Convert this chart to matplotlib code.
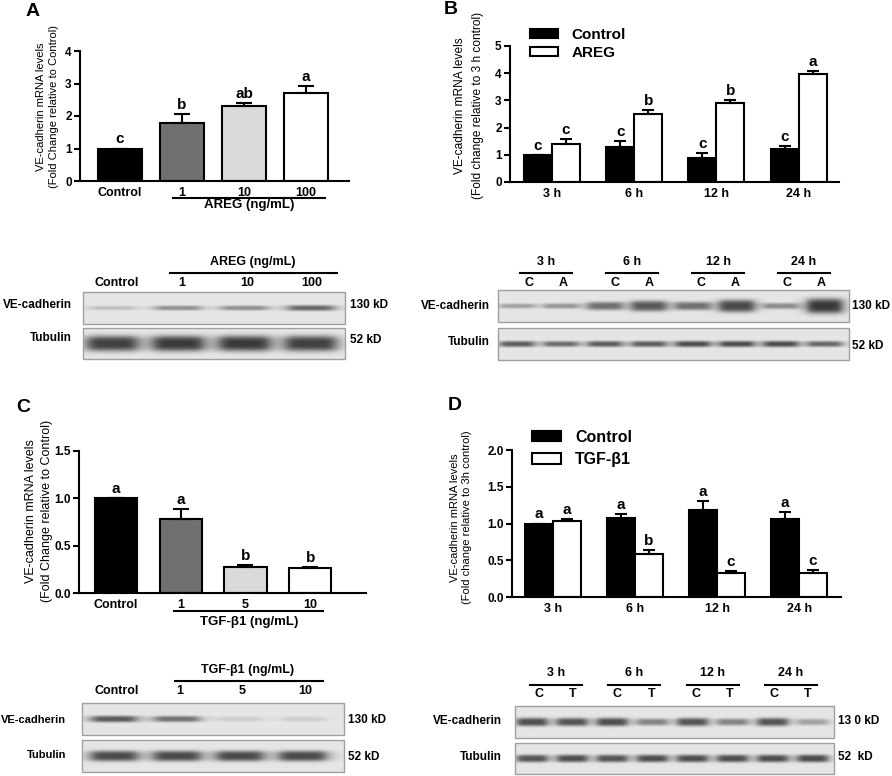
import matplotlib
matplotlib.use("Agg")
import matplotlib.pyplot as plt
import numpy as np
from matplotlib.patches import Rectangle
from matplotlib.ticker import FormatStrFormatter
from matplotlib.transforms import blended_transform_factory

W, H = 892, 776
plt.rcParams["font.family"] = ["Liberation Sans", "DejaVu Sans"]
plt.rcParams["font.weight"] = "bold"

# ---------------- data ----------------
# Panel A: AREG dose response
areg_doses = ["Control", "1", "10", "100"]
areg_mean = [1.0, 1.8, 2.32, 2.7]
areg_err = [0.0, 0.25, 0.08, 0.23]
areg_letters = ["c", "b", "ab", "a"]

# Panel B: AREG time course
time_labels = ["3 h", "6 h", "12 h", "24 h"]
b_ctrl_mean = [1.0, 1.3, 0.9, 1.2]
b_ctrl_err = [0.0, 0.22, 0.17, 0.12]
b_areg_mean = [1.4, 2.5, 2.92, 3.97]
b_areg_err = [0.17, 0.15, 0.08, 0.11]
b_ctrl_letters = ["c", "c", "c", "c"]
b_areg_letters = ["c", "b", "b", "a"]

# Panel C: TGF-b1 dose response
tgf_doses = ["Control", "1", "5", "10"]
tgf_mean = [1.0, 0.78, 0.27, 0.26]
tgf_err = [0.0, 0.11, 0.03, 0.01]
tgf_letters = ["a", "a", "b", "b"]

# Panel D: TGF-b1 time course
d_ctrl_mean = [1.0, 1.07, 1.18, 1.06]
d_ctrl_err = [0.0, 0.06, 0.13, 0.10]
d_tgf_mean = [1.04, 0.58, 0.32, 0.33]
d_tgf_err = [0.02, 0.06, 0.03, 0.04]
d_ctrl_letters = ["a", "a", "a", "a"]
d_tgf_letters = ["a", "b", "c", "c"]

dose_colors = ["black", "#707070", "#d9d9d9", "white"]

# western blot band darkness (0 = no band, 1 = black)
blot_a_ve = [0.2, 0.45, 0.45, 0.65]
blot_a_tub = [0.85, 0.88, 0.88, 0.85]
blot_b_ve = [0.35, 0.4, 0.6, 0.72, 0.6, 0.8, 0.45, 0.9]
blot_b_tub = [0.7, 0.62, 0.7, 0.7, 0.78, 0.78, 0.78, 0.65]
blot_c_ve = [0.72, 0.6, 0.12, 0.12]
blot_c_tub = [0.8, 0.8, 0.8, 0.8]
blot_d_ve = [0.78, 0.75, 0.78, 0.5, 0.75, 0.5, 0.75, 0.35]
blot_d_tub = [0.75, 0.78, 0.75, 0.78, 0.78, 0.78, 0.78, 0.8]
pair_a = ["C", "A"]
pair_t = ["C", "T"]

fig = plt.figure(figsize=(W / 100, H / 100), dpi=100)

# overlay in pixel coordinates for blots and free text
ov = fig.add_axes([0, 0, 1, 1])
ov.set_xlim(0, W)
ov.set_ylim(H, 0)
ov.axis("off")


def chart_axes(left, top, right, bottom):
    ax = fig.add_axes([left / W, 1 - bottom / H, (right - left) / W, (bottom - top) / H])
    ax.spines[["top", "right"]].set_visible(False)
    ax.spines[["left", "bottom"]].set_linewidth(1.5)
    ax.tick_params(axis="y", length=4, width=1.5, labelsize=8.5, pad=2)
    ax.tick_params(axis="x", length=0, labelsize=9, pad=4)
    return ax


def put_letters(ax, xs, means, errs, letters):
    for x, m, e, s in zip(xs, means, errs, letters):
        ax.annotate(s, (x, m + e), xytext=(0, 1.5), textcoords="offset points",
                    ha="center", va="bottom", fontsize=11)


def draw_bars(ax, xs, means, errs, width, colors, capsize):
    ax.bar(xs, means, width=width, color=colors, edgecolor="black", linewidth=1.5, zorder=2)
    ax.errorbar(xs, means, yerr=[np.zeros(len(errs)), errs], fmt="none", ecolor="black",
                elinewidth=1.5, capsize=capsize, capthick=1.5, zorder=3)


def draw_blot(box, lanes, darkness, band_w, h0, h1):
    left, top, right, bottom = box
    xs = np.linspace(left, right, int((right - left) * 3))
    ys = np.linspace(top, bottom, int((bottom - top) * 3))
    X, Y = np.meshgrid(xs, ys)
    img = np.full(X.shape, 0.9)
    yc = (top + bottom) / 2
    for xc, d in zip(lanes, darkness):
        bh = h0 + h1 * d ** 2
        px = 1 / (1 + ((X - xc) / (band_w / 2)) ** 6)
        py = np.exp(-np.abs((Y - yc) / (bh / 2)) ** 3)
        img -= 0.76 * d * px * py
    ov.imshow(img, cmap="gray", vmin=0, vmax=1, extent=(left, right, bottom, top),
              aspect="auto", interpolation="bilinear", zorder=1)
    ov.add_patch(Rectangle((left, top), right - left, bottom - top, fill=False,
                           edgecolor="#a0a0a0", lw=1, zorder=2))


def blot_labels(x_right, y_ve, y_tub, x_kd, kd_ve, kd_tub, y_kd_tub, size=8.5):
    ov.text(x_right, y_ve, "VE-cadherin", ha="right", va="center", fontsize=size)
    ov.text(x_right, y_tub, "Tubulin", ha="right", va="center", fontsize=size)
    ov.text(x_kd, y_ve, kd_ve, ha="left", va="center", fontsize=8.5)
    ov.text(x_kd, y_kd_tub, kd_tub, ha="left", va="center", fontsize=8.5)


def ylabel(ax, text, size, x_px, left_px, width_px, yfrac, spacing):
    ax.set_ylabel(text, fontsize=size, fontweight="normal", linespacing=spacing)
    ax.yaxis.set_label_coords((x_px - left_px) / width_px, yfrac)


# ---------------- panel A ----------------
ax = chart_axes(80, 51, 349, 181)
xa = np.arange(len(areg_doses))
draw_bars(ax, xa, areg_mean, areg_err, 0.71, dose_colors, 6)
put_letters(ax, xa, areg_mean, areg_err, areg_letters)
ax.set_xlim(-0.645, 3.69)
ax.set_ylim(0, 4)
ax.set_yticks([0, 1, 2, 3, 4])
ax.set_xticks(xa, areg_doses)
ylabel(ax, "VE-cadherin mRNA levels\n(Fold Change relative to Control)", 8, 59, 80, 269, 0.57, 1.35)
tr = blended_transform_factory(ax.transData, ax.transAxes)
ax.plot([0.855, 3.31], [-0.131, -0.131], transform=tr, color="black", lw=1.5, clip_on=False)
ax.text(2.08, -0.185, "AREG (ng/mL)", transform=tr, ha="center", va="center", fontsize=9.5)

# ---------------- panel B ----------------
ax = chart_axes(510, 46, 839, 182)
xb = np.arange(len(time_labels))
bw = 0.34
draw_bars(ax, xb - bw / 2, b_ctrl_mean, b_ctrl_err, bw, "black", 4)
draw_bars(ax, xb + bw / 2, b_areg_mean, b_areg_err, bw, "white", 4)
put_letters(ax, xb - bw / 2, b_ctrl_mean, b_ctrl_err, b_ctrl_letters)
put_letters(ax, xb + bw / 2, b_areg_mean, b_areg_err, b_areg_letters)
ax.set_xlim(-0.51, 3.49)
ax.set_ylim(0, 5)
ax.set_yticks([0, 1, 2, 3, 4, 5])
ax.set_xticks(xb, time_labels)
ylabel(ax, "VE-cadherin mRNA levels\n(Fold change relative to 3 h control)", 8.6, 484, 510, 329, 0.56, 1.65)
handles = [Rectangle((0, 0), 1, 1, fc="black", ec="black", lw=1.5),
           Rectangle((0, 0), 1, 1, fc="white", ec="black", lw=1.5)]
ax.legend(handles, ["Control", "AREG"], loc="upper left", bbox_to_anchor=(530 / W, 1 - 28 / H),
          bbox_transform=fig.transFigure, frameon=False, prop={"weight": "bold", "size": 11},
          handlelength=1.8, handleheight=0.5, handletextpad=0.9, labelspacing=0.25,
          borderpad=0, borderaxespad=0)

# ---------------- panel C ----------------
ax = chart_axes(79, 451, 366, 593)
xc = np.arange(len(tgf_doses))
draw_bars(ax, xc, tgf_mean, tgf_err, 0.65, dose_colors, 6)
put_letters(ax, xc, tgf_mean, tgf_err, tgf_letters)
ax.set_xlim(-0.57, 3.86)
ax.set_ylim(0, 1.5)
ax.set_yticks([0, 0.5, 1.0, 1.5])
ax.yaxis.set_major_formatter(FormatStrFormatter("%.1f"))
ax.set_xticks(xc, tgf_doses)
ylabel(ax, "VE-cadherin mRNA levels\n(Fold Change relative to Control)", 9, 53, 79, 287, 0.58, 1.45)
tr = blended_transform_factory(ax.transData, ax.transAxes)
ax.plot([0.89, 3.2], [-0.127, -0.127], transform=tr, color="black", lw=1.5, clip_on=False)
ax.text(2.05, -0.204, "TGF-β1 (ng/mL)", transform=tr, ha="center", va="center", fontsize=9.5)

# ---------------- panel D ----------------
ax = chart_axes(512, 450, 841, 597)
xd = np.arange(len(time_labels))
draw_bars(ax, xd - bw / 2, d_ctrl_mean, d_ctrl_err, bw, "black", 4)
draw_bars(ax, xd + bw / 2, d_tgf_mean, d_tgf_err, bw, "white", 4)
put_letters(ax, xd - bw / 2, d_ctrl_mean, d_ctrl_err, d_ctrl_letters)
put_letters(ax, xd + bw / 2, d_tgf_mean, d_tgf_err, d_tgf_letters)
ax.set_xlim(-0.5, 3.51)
ax.set_ylim(0, 2.0)
ax.set_yticks([0, 0.5, 1.0, 1.5, 2.0])
ax.yaxis.set_major_formatter(FormatStrFormatter("%.1f"))
ax.set_xticks(xd, time_labels)
ylabel(ax, "VE-cadherin mRNA levels\n(Fold change relative to 3h control)", 8, 472, 512, 329, 0.54, 1.3)
handles = [Rectangle((0, 0), 1, 1, fc="black", ec="black", lw=1.5),
           Rectangle((0, 0), 1, 1, fc="white", ec="black", lw=1.5)]
ax.legend(handles, ["Control", "TGF-β1"], loc="upper left", bbox_to_anchor=(532 / W, 1 - 430 / H),
          bbox_transform=fig.transFigure, frameon=False, prop={"weight": "bold", "size": 11.5},
          handlelength=1.8, handleheight=0.6, handletextpad=0.9, labelspacing=0.45,
          borderpad=0, borderaxespad=0)

# ---------------- panel letters ----------------
for letter, (x, y) in zip("ABCD", [(33, 12), (451, 9), (23, 408), (455, 405)]):
    ov.text(x, y, letter, ha="center", va="center", fontsize=14)

# ---------------- blot A ----------------
lanes = np.linspace(112, 311, 4)
heads = np.linspace(117, 312, 4)
ov.text(253, 262, "AREG (ng/mL)", ha="center", va="center", fontsize=9)
ov.plot([170, 337], [273, 273], color="black", lw=1.5)
for x, s in zip(heads, areg_doses):
    ov.text(x, 283, s, ha="center", va="center", fontsize=9)
draw_blot((83, 292, 345, 324), lanes, blot_a_ve, 47, 4, 4)
draw_blot((83, 328, 345, 359), lanes, blot_a_tub, 52, 15, 1)
blot_labels(72, 305, 338, 350, "130 kD", "52 kD", 340)

# ---------------- blot B ----------------
lanes = np.linspace(517, 825, 8)
groups = np.linspace(546, 804, 4)
for g, t in zip(groups, time_labels):
    ov.text(g, 262, t, ha="center", va="center", fontsize=9)
    ov.plot([g - 26, g + 26], [273, 273], color="black", lw=1.5)
    for dx, s in zip([-17, 17], pair_a):
        ov.text(g + dx, 283, s, ha="center", va="center", fontsize=9)
draw_blot((498, 290, 849, 322), lanes, blot_b_ve, 36, 3, 15)
draw_blot((498, 328, 849, 360), lanes, blot_b_tub, 35, 5, 2)
blot_labels(490, 306, 342, 852, "130 kD", "52 kD", 346)

# ---------------- blot C ----------------
lanes = np.linspace(114, 303, 4)
heads = np.linspace(117, 305, 4)
ov.text(248, 670, "TGF-β1 (ng/mL)", ha="center", va="center", fontsize=9)
ov.plot([175, 323], [681, 681], color="black", lw=1.5)
for x, s in zip(heads, tgf_doses):
    ov.text(x, 691, s, ha="center", va="center", fontsize=9)
draw_blot((82, 703, 344, 735), lanes, blot_c_ve, 46, 5, 3)
draw_blot((82, 740, 344, 772), lanes, blot_c_tub, 48, 10, 1)
blot_labels(66, 720, 755, 348, "130 kD", "52 kD", 757, size=8)

# ---------------- blot D ----------------
lanes = np.linspace(532, 813, 8)
groups = np.linspace(556, 791, 4)
for g, t in zip(groups, time_labels):
    ov.text(g, 673, t, ha="center", va="center", fontsize=9)
    ov.plot([g - 26, g + 26], [685, 685], color="black", lw=1.5)
    for dx, s in zip([-17, 17], pair_t):
        ov.text(g + dx, 694, s, ha="center", va="center", fontsize=9)
draw_blot((515, 706, 834, 738), lanes, blot_d_ve, 31, 6, 4)
draw_blot((515, 743, 834, 774), lanes, blot_d_tub, 31, 7, 1)
blot_labels(502, 721, 757, 838, "13 0 kD", "52  kD", 757)

fig.savefig("out.png", dpi=100)
